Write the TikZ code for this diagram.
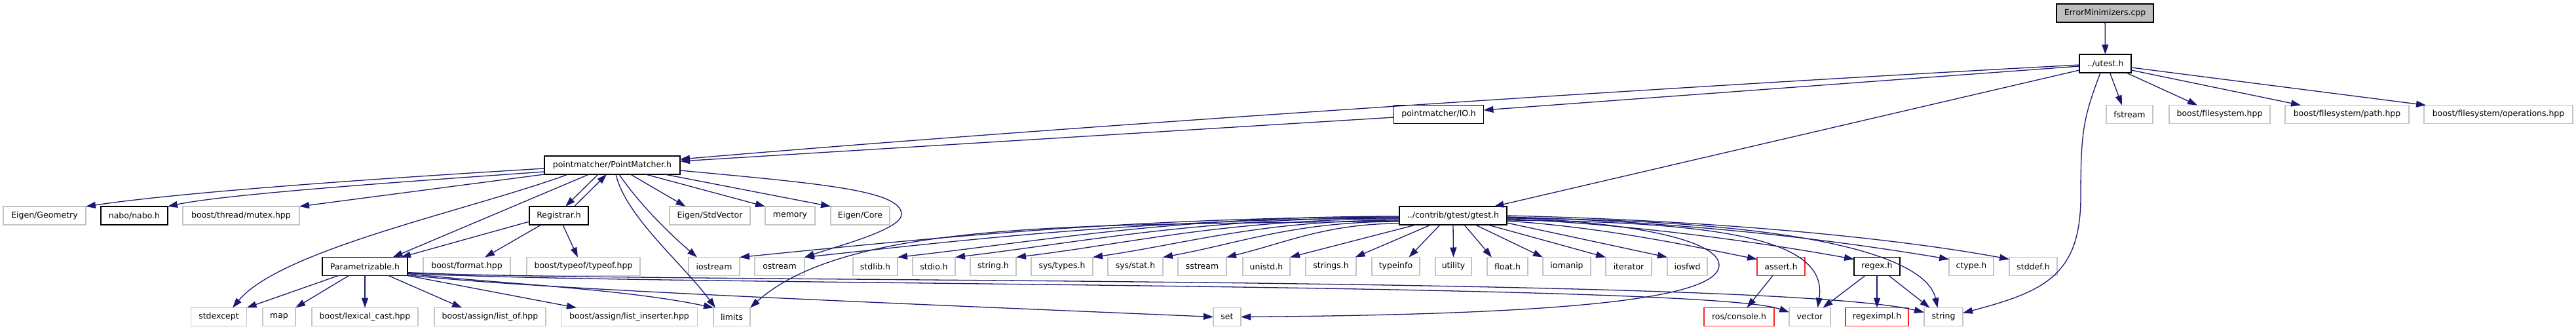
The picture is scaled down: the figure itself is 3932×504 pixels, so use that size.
\documentclass[tikz,border=0pt]{standalone}
\usepackage{fontspec}
\usetikzlibrary{arrows.meta}
\newfontfamily\dvs{DejaVu Sans}
\newcommand\nodefont{\dvs\fontsize{12.5pt}{15pt}\selectfont}
\definecolor{edgec}{HTML}{191970}
\definecolor{gry}{HTML}{BFBFBF}
\definecolor{gryb}{HTML}{C4C4C4}
\definecolor{redc}{HTML}{FF2020}
\tikzset{
  box/.style={rectangle, minimum height=28pt, inner sep=0pt, outer sep=0pt, font=\nodefont, text=black, fill=white, line width=1.3pt},
  ext/.style={box, draw=gryb},
  doc/.style={box, draw=black, line width=1.6pt},
  mis/.style={box, draw=redc},
  rootb/.style={box, draw=black, fill=gry, line width=1.6pt},
  dep/.style={draw=edgec, line width=1.3pt, -{Triangle[length=15pt,width=10pt]}},
}
\begin{document}
\begin{tikzpicture}[x=1pt,y=-1pt]
\useasboundingbox (0,0) rectangle (3932,504);
% row 0
\node[rootb, minimum width=148pt] (root) at (3213,20) {ErrorMinimizers.cpp};
% row 1
\node[doc, minimum width=79pt] (utest) at (3213.5,97) {../utest.h};
% row 2
\node[doc, minimum width=137pt] (io) at (2196,174.5) {pointmatcher/IO.h};
\node[ext, minimum width=71pt] (fstream) at (3250.5,174.5) {fstream};
\node[ext, minimum width=154pt] (bfs) at (3388,174.5) {boost/filesystem.hpp};
\node[ext, minimum width=189pt] (bfsp) at (3582.5,174.5) {boost/filesystem/path.hpp};
\node[ext, minimum width=227pt] (bfso) at (3813.5,174.5) {boost/filesystem/operations.hpp};
% row 3
\node[doc, minimum width=207pt] (pm) at (934.5,252) {pointmatcher/PointMatcher.h};
% row 4
\node[ext, minimum width=126pt] (egeo) at (68,329) {Eigen/Geometry};
\node[doc, minimum width=102pt] (nabo) at (205,329) {nabo/nabo.h};
\node[ext, minimum width=178pt] (mutex) at (368,329) {boost/thread/mutex.hpp};
\node[doc, minimum width=90pt] (reg) at (853,329) {Registrar.h};
\node[ext, minimum width=123pt] (estd) at (1083.5,329) {Eigen/StdVector};
\node[ext, minimum width=76pt] (memory) at (1206,329) {memory};
\node[ext, minimum width=90pt] (ecore) at (1313,329) {Eigen/Core};
\node[doc, minimum width=164pt] (gtest) at (2218,329) {../contrib/gtest/gtest.h};
% row 5
\node[doc, minimum width=130pt] (param) at (557,406.5) {Parametrizable.h};
\node[ext, minimum width=133pt] (bfmt) at (712.5,406.5) {boost/format.hpp};
\node[ext, minimum width=173pt] (typeof) at (890.5,406.5) {boost/typeof/typeof.hpp};
\node[ext, minimum width=78pt] (iostream) at (1090,406.5) {iostream};
\node[ext, minimum width=76pt] (ostream) at (1190,406.5) {ostream};
\node[ext, minimum width=68pt] (stdlib) at (1336,406.5) {stdlib.h};
\node[ext, minimum width=65pt] (stdio) at (1425.5,406.5) {stdio.h};
\node[ext, minimum width=70pt] (stringh) at (1516,406.5) {string.h};
\node[ext, minimum width=94pt] (systypes) at (1621,406.5) {sys/types.h};
\node[ext, minimum width=84pt] (sysstat) at (1733,406.5) {sys/stat.h};
\node[ext, minimum width=74pt] (sstream) at (1835,406.5) {sstream};
\node[ext, minimum width=72pt] (unistd) at (1933,406.5) {unistd.h};
\node[ext, minimum width=77pt] (stringsh) at (2031.5,406.5) {strings.h};
\node[ext, minimum width=73pt] (typeinfo) at (2130.5,406.5) {typeinfo};
\node[ext, minimum width=55pt] (utility) at (2218.5,406.5) {utility};
\node[ext, minimum width=62pt] (float) at (2301,406.5) {float.h};
\node[ext, minimum width=73pt] (iomanip) at (2391.5,406.5) {iomanip};
\node[ext, minimum width=70pt] (iterator) at (2486,406.5) {iterator};
\node[ext, minimum width=61pt] (iosfwd) at (2575.5,406.5) {iosfwd};
\node[mis, minimum width=73pt] (assert) at (2718.5,406.5) {assert.h};
\node[doc, minimum width=70pt] (regex) at (2865,406.5) {regex.h};
\node[ext, minimum width=68pt] (ctype) at (3009,406.5) {ctype.h};
\node[ext, minimum width=73pt] (stddef) at (3103.5,406.5) {stddef.h};
% row 6
\node[ext, minimum width=85pt] (stdexcept) at (334,483.5) {stdexcept};
\node[ext, minimum width=50pt] (map) at (426,483.5) {map};
\node[ext, minimum width=162pt] (lexical) at (557,483.5) {boost/lexical\_cast.hpp};
\node[ext, minimum width=170pt] (listof) at (748,483.5) {boost/assign/list\_of.hpp};
\node[ext, minimum width=208pt] (listins) at (960.5,483.5) {boost/assign/list\_inserter.hpp};
\node[ext, minimum width=56pt] (limits) at (1117,483.5) {limits};
\node[ext, minimum width=42pt] (set) at (1873,483.5) {set};
\node[mis, minimum width=107pt] (ros) at (2654.5,483.5) {ros/console.h};
\node[ext, minimum width=63pt] (vector) at (2762.5,483.5) {vector};
\node[mis, minimum width=96pt] (regeximpl) at (2865,483.5) {regeximpl.h};
\node[ext, minimum width=59pt] (string) at (2966.5,483.5) {string};

% root and utest
\draw[dep] (root) -- (utest);
\draw[dep] ([yshift=-4pt]utest.west) -- ([yshift=6.5pt]io.east);
\draw[dep] ([yshift=-2pt]utest.west) .. controls (2500,135) and (1600,195) .. ([yshift=9pt]pm.east);
\draw[dep] ([yshift=-4.5pt]io.west) -- ([yshift=6pt]pm.east);
\draw[dep] ([yshift=-10pt]utest.west) -- ([xshift=62.5pt]gtest.north);
\draw[dep] ([xshift=7pt]utest.south) -- ([xshift=-11.5pt]fstream.north);
\draw[dep] ([xshift=32pt]utest.south) -- ([xshift=-34pt]bfs.north);
\draw[dep] ([yshift=-10pt]utest.east) -- ([xshift=-70.5pt]bfsp.north);
\draw[dep] ([yshift=-6pt]utest.east) -- ([xshift=-110.5pt]bfso.north);
\draw[dep] ([xshift=-7.5pt]utest.south) .. controls (3180,180) and (3176,200) .. (3176,300) .. controls (3176,420) and (3120,445) .. ([yshift=6pt]string.east);

% PointMatcher.h
\draw[dep] ([yshift=-5pt]pm.west) .. controls (650,268) and (300,290) .. (egeo.north east);
\draw[dep] ([yshift=-10pt]pm.west) .. controls (650,275) and (350,295) .. (nabo.north east);
\draw[dep] (pm.south west) -- (mutex.north east);
\draw[dep] ([xshift=-67.5pt]pm.south) .. controls (720,320) and (430,380) .. ([xshift=21pt]stdexcept.north);
\draw[dep] ([xshift=-35.5pt]pm.south) -- ([xshift=42.5pt]param.north);
\draw[dep] ([xshift=-21.5pt]pm.south) -- ([xshift=10pt]reg.north);
\draw[dep] ([xshift=23.5pt]reg.north) -- ([xshift=-8.5pt]pm.south);
\draw[dep] ([xshift=5.5pt]pm.south) .. controls (955,330) and (1040,400) .. ([xshift=-25pt]limits.north);
\draw[dep] ([xshift=10.5pt]pm.south) .. controls (975,310) and (1020,355) .. ([xshift=-26pt]iostream.north);
\draw[dep] ([xshift=28pt]pm.south) -- ([xshift=-37pt]estd.north);
\draw[dep] ([xshift=51pt]pm.south) -- (memory.north west);
\draw[dep] ([xshift=80pt]pm.south) -- (ecore.north west);
\draw[dep] ([yshift=-8pt]pm.east) .. controls (1250,280) and (1376,290) .. (1376,327) .. controls (1376,350) and (1280,375) .. (ostream.north east);

% Registrar.h
\draw[dep] ([yshift=-9pt]reg.west) -- ([xshift=55pt]param.north);
\draw[dep] ([xshift=-27pt]reg.south) -- ([xshift=27.5pt]bfmt.north);
\draw[dep] ([xshift=6pt]reg.south) -- ([xshift=-8.5pt]typeof.north);

% Parametrizable.h
\draw[dep] ([xshift=-40.5pt]param.south) -- (stdexcept.north east);
\draw[dep] ([xshift=-24.5pt]param.south) -- (map.north east);
\draw[dep] (param.south) -- (lexical.north);
\draw[dep] ([xshift=36pt]param.south) -- ([xshift=-43pt]listof.north);
\draw[dep] (param.south east) -- ([xshift=-80.5pt]listins.north);
\draw[dep] ([yshift=-11pt]param.east) .. controls (750,432) and (950,440) .. (limits.north west);
\draw[dep] ([yshift=-13pt]param.east) .. controls (800,440) and (1300,460) .. (set.west);
\draw[dep] ([yshift=-10pt]param.east) .. controls (900,436) and (2600,430) .. ([yshift=7pt]vector.west);
\draw[dep] ([yshift=-9pt]param.east) .. controls (900,432) and (2700,420) .. ([yshift=7pt]string.west);

% gtest.h, left fan
\draw[dep] ([yshift=-8pt]gtest.west) .. controls (1700,345) and (1300,330) .. (limits.north east);
\draw[dep] ([yshift=-2pt]gtest.west) .. controls +(-400,0) and +(300,-30) .. (iostream.north east);
\draw[dep] ([yshift=-4pt]gtest.west) .. controls +(-380,0) and +(260,-28) .. (ostream.north east);
\draw[dep] ([yshift=-1pt]gtest.west) .. controls +(-340,0) and +(230,-26) .. (stdlib.north east);
\draw[dep] ([yshift=-3pt]gtest.west) .. controls +(-300,0) and +(200,-24) .. (stdio.north east);
\draw[dep] ([yshift=-5pt]gtest.west) .. controls +(-260,0) and +(180,-22) .. (stringh.north east);
\draw[dep] ([yshift=-7pt]gtest.west) .. controls +(-210,0) and +(150,-22) .. (systypes.north east);
\draw[dep] ([yshift=-9pt]gtest.west) .. controls +(-160,0) and +(120,-22) .. (sysstat.north east);
\draw[dep] ([yshift=-12pt]gtest.west) .. controls +(-110,0) and +(90,-22) .. (sstream.north east);
\draw[dep] ([xshift=-57pt]gtest.south) -- (unistd.north east);
\draw[dep] ([xshift=-34pt]gtest.south) -- ([xshift=37pt]stringsh.north);
\draw[dep] ([xshift=-20pt]gtest.south) -- ([xshift=20pt]typeinfo.north);
% gtest.h, right fan
\draw[dep] (gtest.south) -- (utility.north);
\draw[dep] ([xshift=17pt]gtest.south) -- ([xshift=-24pt]float.north);
\draw[dep] ([xshift=34pt]gtest.south) -- (iomanip.north west);
\draw[dep] ([xshift=53pt]gtest.south) -- (iterator.north west);
\draw[dep] ([yshift=-11pt]gtest.east) -- (iosfwd.north west);
\draw[dep] ([yshift=-8pt]gtest.east) .. controls +(150,10) and +(-100,-20) .. ([yshift=-3pt]assert.north west);
\draw[dep] ([yshift=-5pt]gtest.east) .. controls +(200,8) and +(-120,-22) .. ([yshift=-3pt]regex.north west);
\draw[dep] ([yshift=-2pt]gtest.east) .. controls +(300,8) and +(-150,-25) .. ([yshift=-3pt]ctype.north west);
\draw[dep] (gtest.east) .. controls +(350,8) and +(-150,-28) .. ([yshift=-3pt]stddef.north west);
\draw[dep] ([yshift=-7pt]gtest.east) .. controls (2650,338) and (2790,370) .. ([xshift=12pt]vector.north);
\draw[dep] ([yshift=-4pt]gtest.east) .. controls (2750,335) and (2940,390) .. ([xshift=-9pt]string.north);
\draw[dep] ([yshift=-3pt]gtest.east) .. controls (2480,338) and (2625,365) .. (2624,405) .. controls (2622,460) and (2350,480) .. (set.east);

% assert.h and regex.h
\draw[dep] ([xshift=-12.5pt]assert.south) -- ([xshift=12pt]ros.north);
\draw[dep] ([xshift=-18pt]regex.south) -- ([xshift=20pt]vector.north);
\draw[dep] (regex.south) -- (regeximpl.north);
\draw[dep] ([xshift=18pt]regex.south) -- ([xshift=-21pt]string.north);
\end{tikzpicture}
\end{document}
